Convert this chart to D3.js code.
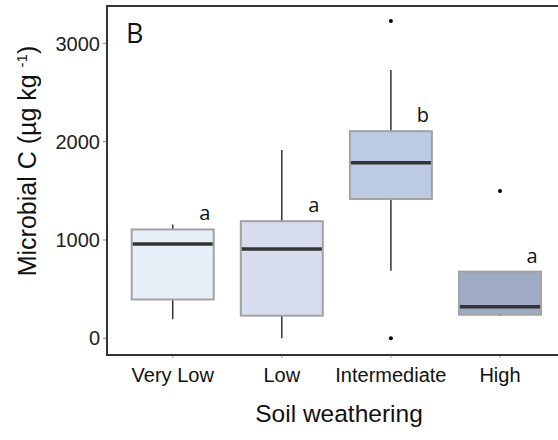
<html lang='eng'>
	<head>
		<title>Microbial C by soil weathering</title>
		<script src="https://d3js.org/d3.v7.min.js" charset="utf-8"></script>
		<style type="text/css">
			body{
				margin: 0;
				background: white;
				font-family: "Liberation Sans", Arial, sans-serif;
			}
			.letter{
				font-family: "Open Sans", sans-serif;
				font-size: 20px;
				fill: #111;
			}
		</style>
	</head>
	<body>
		<div class="main"></div>
		<script>
			// weathering classes and box stats (ug kg-1)
			var categories = ["Very Low", "Low", "Intermediate", "High"]
			var q1 = [395, 230, 1417, 240]
			var median = [959, 908, 1786, 322]
			var q3 = [1107, 1191, 2107, 678]
			var whiskerLow = [193, 0, 688, 227]
			var whiskerHigh = [1158, 1915, 2729, 678]
			var outliers = [[], [], [3228, 0], [1498]]
			var letters = ["a", "a", "b", "a"]
			var fills = ["#e9eff9", "#d7ddef", "#bccbe3", "#9fabc5"]
			var yTicks = [0, 1000, 2000, 3000]

			var width = 558
			var height = 440
			var svg = d3.select(".main")
				.append("svg")
				.attr("width", width)
				.attr("height", height)

			// (window.top is read-only, so not "top")
			var plotLeft = 107, plotTop = 6, plotBottom = 355, plotRight = 560
			var boxW = 82

			var x = d3.scalePoint()
				.domain(categories)
				.range([172.7, 500])

			var y = d3.scaleLinear()
				.domain([-170, 3380])
				.range([plotBottom, plotTop])

			var rows = categories.map(function(c, i){
				return {cat: c, q1: q1[i], med: median[i], q3: q3[i], lo: whiskerLow[i], hi: whiskerHigh[i],
					out: outliers[i], letter: letters[i], fill: fills[i]}
			})

			// y axis ticks + labels
			var yAxis = svg.append("g")
			yAxis.selectAll("line")
				.data(yTicks)
				.enter()
				.append("line")
				.attr("x1", plotLeft - 4).attr("x2", plotLeft)
				.attr("y1", function(d){ return y(d) }).attr("y2", function(d){ return y(d) })
				.attr("stroke", "#888").attr("stroke-width", 1)
			yAxis.selectAll("text")
				.data(yTicks)
				.enter()
				.append("text")
				.attr("x", 100)
				.attr("y", function(d){ return y(d) })
				.attr("dy", "0.36em")
				.attr("text-anchor", "end")
				.attr("font-size", "20px")
				.attr("fill", "#222")
				.text(function(d){ return d })

			// x ticks + labels
			var xAxis = svg.append("g")
			xAxis.selectAll("line")
				.data(categories)
				.enter()
				.append("line")
				.attr("x1", function(d){ return x(d) }).attr("x2", function(d){ return x(d) })
				.attr("y1", plotBottom).attr("y2", plotBottom + 3)
				.attr("stroke", "#999").attr("stroke-width", 1)
			xAxis.selectAll("text")
				.data(categories)
				.enter()
				.append("text")
				.attr("x", function(d){ return x(d) })
				.attr("y", 382)
				.attr("text-anchor", "middle")
				.attr("font-size", "20px")
				.attr("fill", "#111")
				.text(function(d){ return d })

			// frame: top, left, bottom
			svg.append("path")
				.attr("d", "M" + plotRight + "," + plotTop + "H" + plotLeft + "V" + plotBottom + "H" + plotRight)
				.attr("fill", "none")
				.attr("stroke", "#333")
				.attr("stroke-width", 2)

			var g = svg.append("g")
			var box = g.selectAll("g.box")
				.data(rows)
				.enter()
				.append("g")
				.attr("class", "box")

			// whiskers
			box.append("line")
				.attr("x1", function(d){ return x(d.cat) }).attr("x2", function(d){ return x(d.cat) })
				.attr("y1", function(d){ return y(d.lo) }).attr("y2", function(d){ return y(d.hi) })
				.attr("stroke", "#333").attr("stroke-width", 1.5)

			box.append("rect")
				.attr("x", function(d){ return x(d.cat) - boxW / 2 })
				.attr("width", boxW)
				.attr("y", function(d){ return y(d.q3) })
				.attr("height", function(d){ return y(d.q1) - y(d.q3) })
				.attr("fill", function(d){ return d.fill })
				.attr("stroke", "#a2a2a2")
				.attr("stroke-width", 2)

			box.append("line")
				.attr("x1", function(d){ return x(d.cat) - boxW / 2 + 1 }).attr("x2", function(d){ return x(d.cat) + boxW / 2 - 1 })
				.attr("y1", function(d){ return y(d.med) }).attr("y2", function(d){ return y(d.med) })
				.attr("stroke", "#333").attr("stroke-width", 3.5)

			box.selectAll("circle")
				.data(function(d){ return d.out.map(function(v){ return {cat: d.cat, v: v} }) })
				.enter()
				.append("circle")
				.attr("cx", function(d){ return x(d.cat) })
				.attr("cy", function(d){ return y(d.v) })
				.attr("r", 2)
				.attr("fill", "#000")

			box.append("text")
				.attr("class", "letter")
				.attr("x", function(d){ return x(d.cat) + 32 })
				.attr("y", function(d){ return y(d.q3) - 9 })
				.attr("text-anchor", "middle")
				.text(function(d){ return d.letter })

			// panel label
			svg.append("text")
				.attr("x", 126)
				.attr("y", 43)
				.attr("font-family", "'Open Sans', sans-serif")
				.attr("font-size", "27px")
				.attr("fill", "#111")
				.text("B")

			// axis titles
			svg.append("text")
				.attr("x", 339)
				.attr("y", 422)
				.attr("text-anchor", "middle")
				.attr("font-size", "24.5px")
				.attr("fill", "#111")
				.text("Soil weathering")

			var yt = svg.append("text")
				.attr("transform", "translate(36,161) rotate(-90)")
				.attr("text-anchor", "middle")
				.attr("font-size", "25px")
				.attr("fill", "#111")
			yt.append("tspan").text("Microbial C (\u00b5g kg ")
			yt.append("tspan").attr("font-size", "15px").attr("dy", "-9").text("-1")
			yt.append("tspan").attr("dy", "9").text(")")
		</script>
	</body>
</html>
